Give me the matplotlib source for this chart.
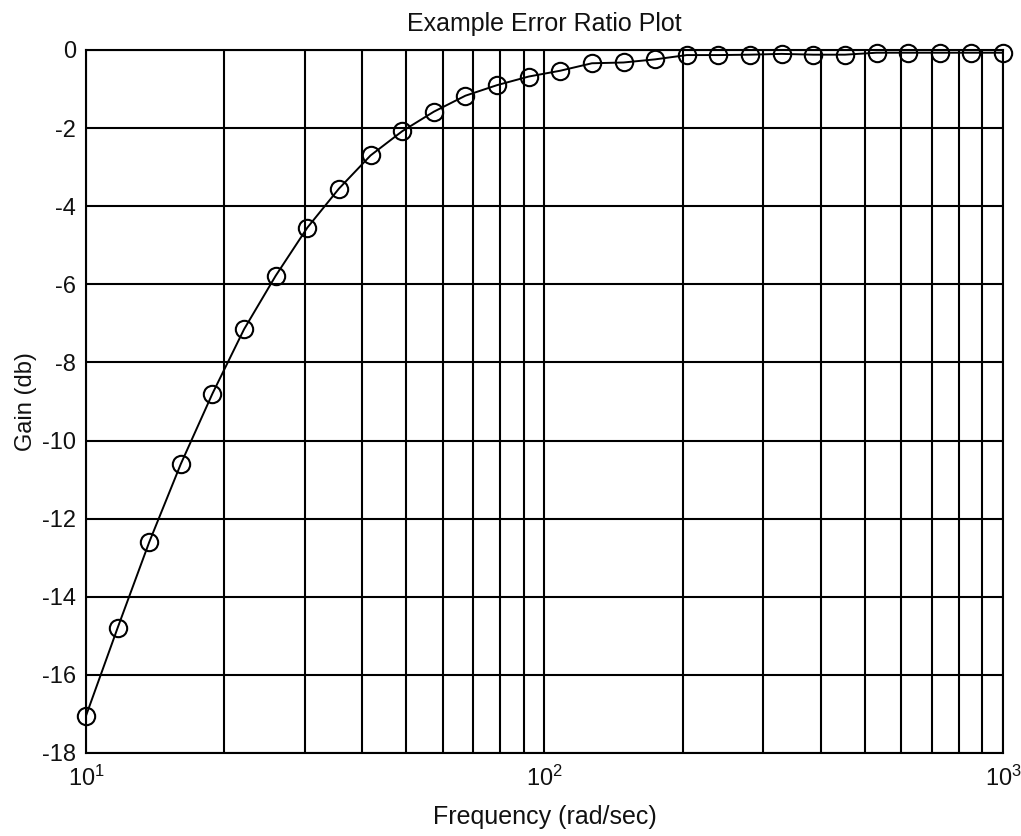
import matplotlib
matplotlib.use("Agg")
import matplotlib.pyplot as plt
from matplotlib.ticker import LogLocator

plt.rcParams['font.family'] = ['Liberation Sans', 'DejaVu Sans']
plt.rcParams['mathtext.fontset'] = 'custom'
plt.rcParams['mathtext.rm'] = 'Liberation Sans'
plt.rcParams['mathtext.it'] = 'Liberation Sans:italic'
plt.rcParams['mathtext.bf'] = 'Liberation Sans:bold'

# Data
freq = [10.0, 11.72, 13.74, 16.10, 18.87, 22.12, 25.93, 30.39, 35.62, 41.75,
        48.94, 57.36, 67.23, 78.80, 92.37, 108.3, 126.9, 148.7, 174.3, 204.3,
        239.5, 280.7, 329.0, 385.7, 452.1, 529.8, 621.0, 727.9, 853.2, 1000.0]
gain = [-17.05, -14.80, -12.60, -10.60, -8.80, -7.15, -5.78, -4.55, -3.55, -2.70,
        -2.08, -1.58, -1.17, -0.90, -0.68, -0.53, -0.34, -0.32, -0.24, -0.13,
        -0.13, -0.12, -0.10, -0.12, -0.12, -0.07, -0.07, -0.07, -0.07, -0.07]
yticks = [0, -2, -4, -6, -8, -10, -12, -14, -16, -18]
title = "Example Error Ratio Plot"
xlabel = "Frequency (rad/sec)"
ylabel = "Gain (db)"

fig = plt.figure(figsize=(10.21, 8.36), dpi=100)
ax = fig.add_axes([0.0842, 0.0993, 0.8982, 0.8409])

ax.plot(freq, gain, color='black', linewidth=1.4, zorder=3)
ax.plot(freq, gain, linestyle='none', marker='o', markersize=12.5,
        markerfacecolor='none', markeredgecolor='black', markeredgewidth=1.5,
        zorder=4, clip_on=False)

ax.set_xscale('log')
ax.set_xlim(10, 1000)
ax.set_ylim(-18, 0)
ax.set_yticks(yticks)
ax.set_yticklabels([str(t) for t in yticks])
ax.xaxis.set_major_locator(LogLocator(base=10, numticks=10))
ax.xaxis.set_minor_locator(LogLocator(base=10, subs=range(2, 10), numticks=20))

ax.grid(True, which='major', color='black', linewidth=1.5)
ax.grid(True, which='minor', axis='x', color='black', linewidth=1.5)
ax.set_axisbelow(True)
for s in ax.spines.values():
    s.set_linewidth(1.5)
    s.set_color('black')

ax.tick_params(which='both', length=0)
ax.tick_params(axis='y', labelsize=17, pad=7, colors='#111111')
ax.tick_params(axis='x', labelsize=17, pad=9, colors='#111111')

ax.set_title(title, fontsize=18, pad=14, color='#111111')
ax.set_xlabel(xlabel, fontsize=18, labelpad=10, color='#111111')
ax.set_ylabel(ylabel, fontsize=17, labelpad=4, color='#111111')

fig.savefig('out.png', dpi=100, facecolor='white')
